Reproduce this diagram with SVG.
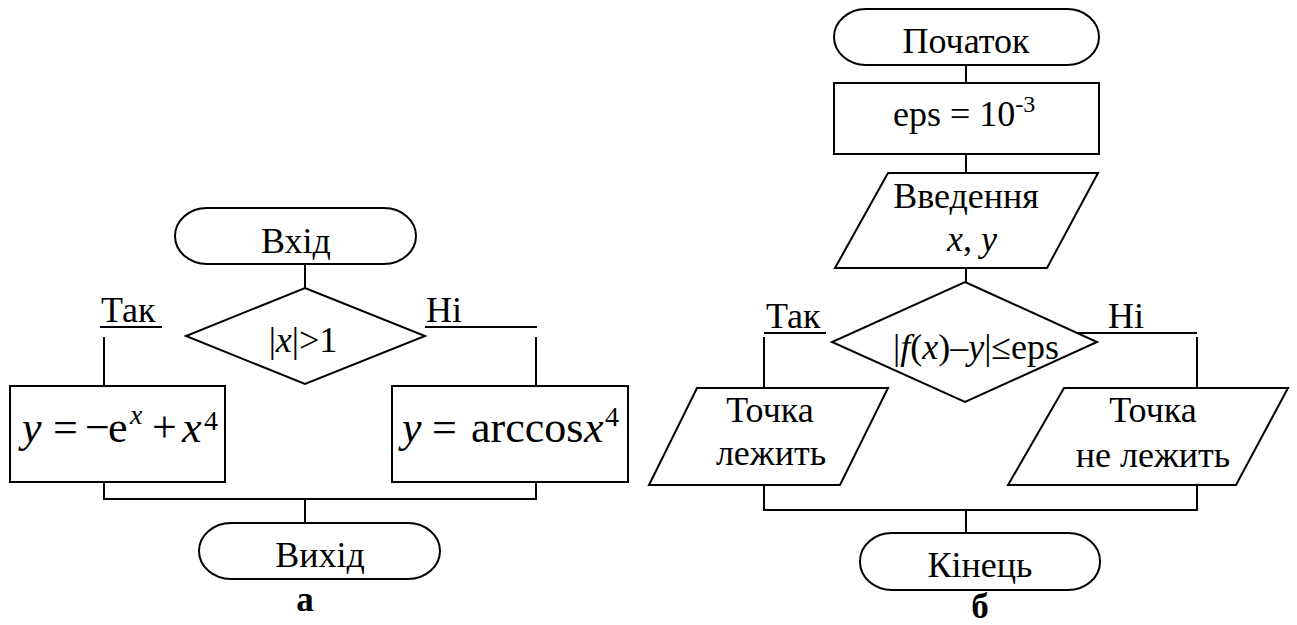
<svg xmlns="http://www.w3.org/2000/svg" width="1297" height="625" viewBox="0 0 1297 625" font-family="'Liberation Serif', 'Times New Roman', serif">
  <style>
    .shape { fill: #fff; stroke: #000; stroke-width: 2; }
    .wire { fill: none; stroke: #000; stroke-width: 2; }
    text { font-family: "Liberation Serif", "Times New Roman", serif; fill: #000; }
    .lbl { font-size: 36px; text-anchor: middle; }
    .lblL { font-size: 36px; }
    .eq { font-size: 44px; }
    .sup { font-size: 28px; }
    .cap { font-size: 35px; font-weight: bold; text-anchor: middle; }
    .it { font-style: italic; }
  </style>
  <rect width="1297" height="625" fill="#fff"/>

  <!-- ===== Flowchart (а) ===== -->
  <g id="a-connectors">
    <path class="wire" d="M305 264 V288"/>
    <path class="wire" d="M100 327 H162"/>
    <path class="wire" d="M425 327 H537"/>
    <path class="wire" d="M104 337 V386"/>
    <path class="wire" d="M536 337 V386"/>
    <path class="wire" d="M104 477 V499 H536 V477"/>
    <path class="wire" d="M305 499 V523"/>
  </g>

  <g id="a-start">
    <rect class="shape" x="175" y="208" width="241" height="56" rx="32" ry="28"/>
    <text class="lbl" x="296" y="253">Вхід</text>
  </g>

  <g id="a-cond">
    <polygon class="shape" points="305,288 425,336 305,384 186,336"/>
    <text class="lbl" x="303" y="352">|<tspan class="it">x</tspan>|&gt;1</text>
  </g>

  <g id="a-yes-label">
    <text class="lblL" x="101" y="322">Так</text>
  </g>
  <g id="a-no-label">
    <text class="lblL" x="426" y="322">Ні</text>
  </g>

  <g id="a-calc-yes">
    <rect class="shape" x="10" y="386" width="215" height="96"/>
    <text class="eq" y="442"><tspan class="it" x="22">y</tspan><tspan x="53">=</tspan><tspan x="85">−</tspan><tspan x="108">e</tspan><tspan class="it sup" x="130" y="424">x</tspan><tspan x="152" y="442">+</tspan><tspan class="it" x="182">x</tspan><tspan class="sup" x="204" y="430">4</tspan></text>
  </g>

  <g id="a-calc-no">
    <rect class="shape" x="392" y="386" width="236" height="96"/>
    <text class="eq" y="442"><tspan class="it" x="402">y</tspan><tspan x="432">=</tspan><tspan x="471">arccos</tspan><tspan class="it" x="584">x</tspan><tspan class="sup" x="605" y="426">4</tspan></text>
  </g>

  <g id="a-end">
    <rect class="shape" x="199" y="523" width="241" height="56" rx="32" ry="28"/>
    <text class="lbl" x="320" y="567">Вихід</text>
  </g>

  <g id="a-caption">
    <text class="cap" x="305" y="611">а</text>
  </g>

  <!-- ===== Flowchart (б) ===== -->
  <g id="b-connectors">
    <path class="wire" d="M966 65 V83"/>
    <path class="wire" d="M966 151 V173"/>
    <path class="wire" d="M966 268 V282"/>
    <path class="wire" d="M764 333 H826"/>
    <path class="wire" d="M1073 333 H1197"/>
    <path class="wire" d="M764 337 V388"/>
    <path class="wire" d="M1197 337 V388"/>
    <path class="wire" d="M764 485 V510 H1197 V485"/>
    <path class="wire" d="M966 510 V533"/>
  </g>

  <g id="b-start">
    <rect class="shape" x="834" y="9" width="265" height="56" rx="32" ry="28"/>
    <text class="lbl" x="966" y="53">Початок</text>
  </g>

  <g id="b-eps">
    <rect class="shape" x="834" y="83" width="265" height="71"/>
    <text class="lblL" x="893" y="126">eps = 10<tspan font-size="24" dy="-14">-3</tspan></text>
  </g>

  <g id="b-input">
    <polygon class="shape" points="888,173 1098,173 1047,268 835,268"/>
    <text class="lbl" x="966" y="208">Введення</text>
    <text class="lbl" x="972" y="251"><tspan class="it">x</tspan>, <tspan class="it">y</tspan></text>
  </g>

  <g id="b-cond">
    <polygon class="shape" points="965,282 1097,342 965,402 832,342"/>
    <text class="lbl" x="976" y="359">|<tspan class="it">f</tspan>(<tspan class="it">x</tspan>)–<tspan class="it">y</tspan>|≤eps</text>
  </g>

  <g id="b-yes-label">
    <text class="lblL" x="766" y="328">Так</text>
  </g>
  <g id="b-no-label">
    <text class="lblL" x="1108" y="328">Ні</text>
  </g>

  <g id="b-out-yes">
    <polygon class="shape" points="697,388 888,388 840,485 649,485"/>
    <text class="lbl" x="770" y="422">Точка</text>
    <text class="lbl" x="771" y="465">лежить</text>
  </g>

  <g id="b-out-no">
    <polygon class="shape" points="1064,388 1288,388 1236,485 1008,485"/>
    <text class="lbl" x="1153" y="422">Точка</text>
    <text class="lbl" x="1153" y="467">не лежить</text>
  </g>

  <g id="b-end">
    <rect class="shape" x="860" y="533" width="240" height="57" rx="32" ry="28"/>
    <text class="lbl" x="980" y="577">Кінець</text>
  </g>

  <g id="b-caption">
    <text class="cap" x="980" y="618">б</text>
  </g>
</svg>
